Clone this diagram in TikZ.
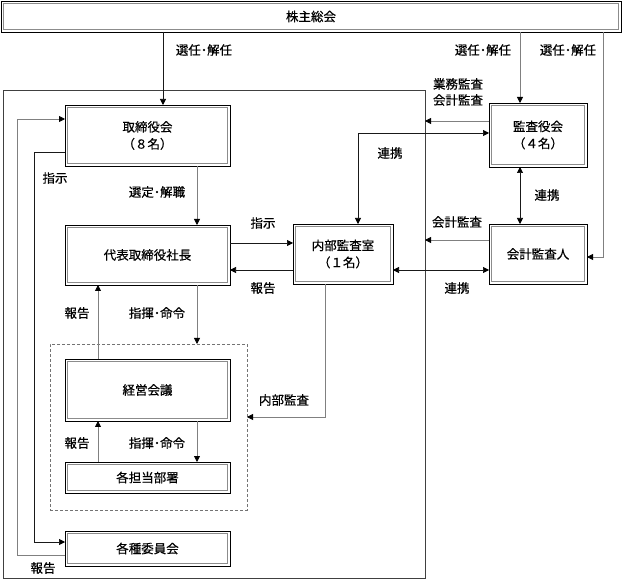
\documentclass[tikz,border=0pt]{standalone}
\usepackage{fontspec}
\setmainfont{Noto Sans CJK JP}[FakeBold=0.5]
\usetikzlibrary{arrows.meta}
\tikzset{
  box/.style={draw=black, line width=0.6pt, outer sep=0pt, inner sep=0pt, align=center,
    font=\fontsize{12.5}{17}\selectfont,
    path picture={\draw[black!45, line width=0.9pt]
      ([shift={(2.5pt,-2.5pt)}]path picture bounding box.north west) rectangle
      ([shift={(-2.5pt,2.5pt)}]path picture bounding box.south east);}},
  lbl/.style={inner sep=0pt, align=center, font=\fontsize{12.5}{16}\selectfont},
  tip/.tip={Triangle[length=6pt,width=6pt,color=black]},
  arr/.style={draw=black!90, line width=0.6pt, -tip},
  garr/.style={arr, draw=black!50, line width=0.8pt},
  both/.style={draw=black!90, line width=0.6pt, tip-tip}
}
\begin{document}
\begin{tikzpicture}[x=1pt,y=-1pt]
\useasboundingbox (0,0) rectangle (622,580);
\node[box, minimum width=620pt, minimum height=31pt] (soukai) at (311,16.5) {株主総会};
\node[draw=black!75, line width=0.6pt, outer sep=0pt, minimum width=422pt, minimum height=488pt] (kaisha) at (214,334) {};
\node[draw=black!55, line width=0.6pt, dash pattern=on 3pt off 2pt, outer sep=0pt, minimum width=197pt, minimum height=166pt] (keieigrp) at (148.5,427) {};
\node[box, minimum width=165pt, minimum height=61pt] (torishimari) at (147.5,135.5) {取締役会\\（８名）};
\node[box, minimum width=165pt, minimum height=60pt] (shachou) at (147.5,255) {代表取締役社長};
\node[box, minimum width=100pt, minimum height=60pt] (naibu) at (343,254) {内部監査室\\（１名）};
\node[box, minimum width=98pt, minimum height=64pt] (kansayaku) at (538,135) {監査役会\\（４名）};
\node[box, minimum width=98pt, minimum height=60pt] (kaikei) at (538,254) {会計監査人};
\node[box, minimum width=165pt, minimum height=62pt] (keiei) at (147.5,390) {経営会議};
\node[box, minimum width=165pt, minimum height=31pt] (tantou) at (147.5,477.5) {各担当部署};
\node[box, minimum width=165pt, minimum height=35pt] (iinkai) at (147.5,548.5) {各種委員会};

\draw[arr] ([xshift=15.5pt]torishimari.north |- soukai.south) -- ([xshift=15.5pt]torishimari.north);
\draw[garr] ([xshift=-18pt]kansayaku.north |- soukai.south) -- ([xshift=-18pt]kansayaku.north);
\draw[garr] ([xshift=16pt]kaikei.east |- soukai.south) |- ([yshift=-3pt]kaikei.east);
\draw[garr] ([xshift=49.5pt]torishimari.south) -- ([xshift=49.5pt]shachou.north);
\draw[garr] ([xshift=49.5pt]shachou.south) -- ([xshift=49.5pt]shachou.south |- keieigrp.north);
\draw[garr] ([xshift=-49.5pt]keiei.north) -- ([xshift=-49.5pt]shachou.south);
\draw[garr] ([xshift=49.5pt]keiei.south) -- ([xshift=49.5pt]tantou.north);
\draw[garr] ([xshift=-49.5pt]tantou.north) -- ([xshift=-49.5pt]keiei.south);
\draw[arr] ([yshift=12pt]shachou.east) -- ([yshift=12pt]shachou.east -| naibu.west);
\draw[arr] ([yshift=-15pt]shachou.east -| naibu.west) -- ([yshift=-15pt]shachou.east);
\draw[garr] ([xshift=-18pt]naibu.south) |- ([yshift=10pt]keieigrp.east);
\draw[arr] ([yshift=-16.5pt]torishimari.west) -| ([xshift=-31pt,yshift=6.5pt]iinkai.west) -- ([yshift=6.5pt]iinkai.west);
\draw[garr] ([yshift=-6.5pt]iinkai.west) -| ([xshift=-48pt,yshift=16.5pt]torishimari.west) -- ([yshift=16.5pt]torishimari.west);
\draw[garr] ([yshift=14pt]kansayaku.west) -- ([yshift=14pt]kansayaku.west -| kaisha.east);
\draw[garr] ([yshift=14pt]kaikei.west) -- ([yshift=14pt]kaikei.west -| kaisha.east);
\draw[both] ([yshift=2pt]kansayaku.west) -| ([xshift=15pt]naibu.north);
\draw[both] ([xshift=-18pt]kansayaku.south) -- ([xshift=-18pt]kaikei.north);
\draw[both] ([yshift=-16pt]naibu.east) -- ([yshift=-16pt]naibu.east -| kaikei.west);

\node[lbl] (senninA) at (204,50) {選任･解任};
\node[lbl] (senninB) at (483,50) {選任･解任};
\node[lbl] (senninC) at (568,50) {選任･解任};
\node[lbl] (gyoumu) at (458,92) {業務監査\\会計監査};
\node[lbl] (renkeiA) at (390,153) {連携};
\node[lbl] (renkeiB) at (547,195) {連携};
\node[lbl] (kaikeikansa) at (457,222) {会計監査};
\node[lbl] (renkeiC) at (457,288) {連携};
\node[lbl] (shijiA) at (263,223) {指示};
\node[lbl] (houkokuA) at (263,288) {報告};
\node[lbl] (sentei) at (157,192) {選定･解職};
\node[lbl] (shijiB) at (55,178) {指示};
\node[lbl] (shikiA) at (157,313) {指揮･命令};
\node[lbl] (houkokuB) at (77,313) {報告};
\node[lbl] (shikiB) at (157,443) {指揮･命令};
\node[lbl] (houkokuC) at (77,443) {報告};
\node[lbl] (naibukansa) at (284,400) {内部監査};
\node[lbl] (houkokuD) at (43,568) {報告};
\end{tikzpicture}
\end{document}
